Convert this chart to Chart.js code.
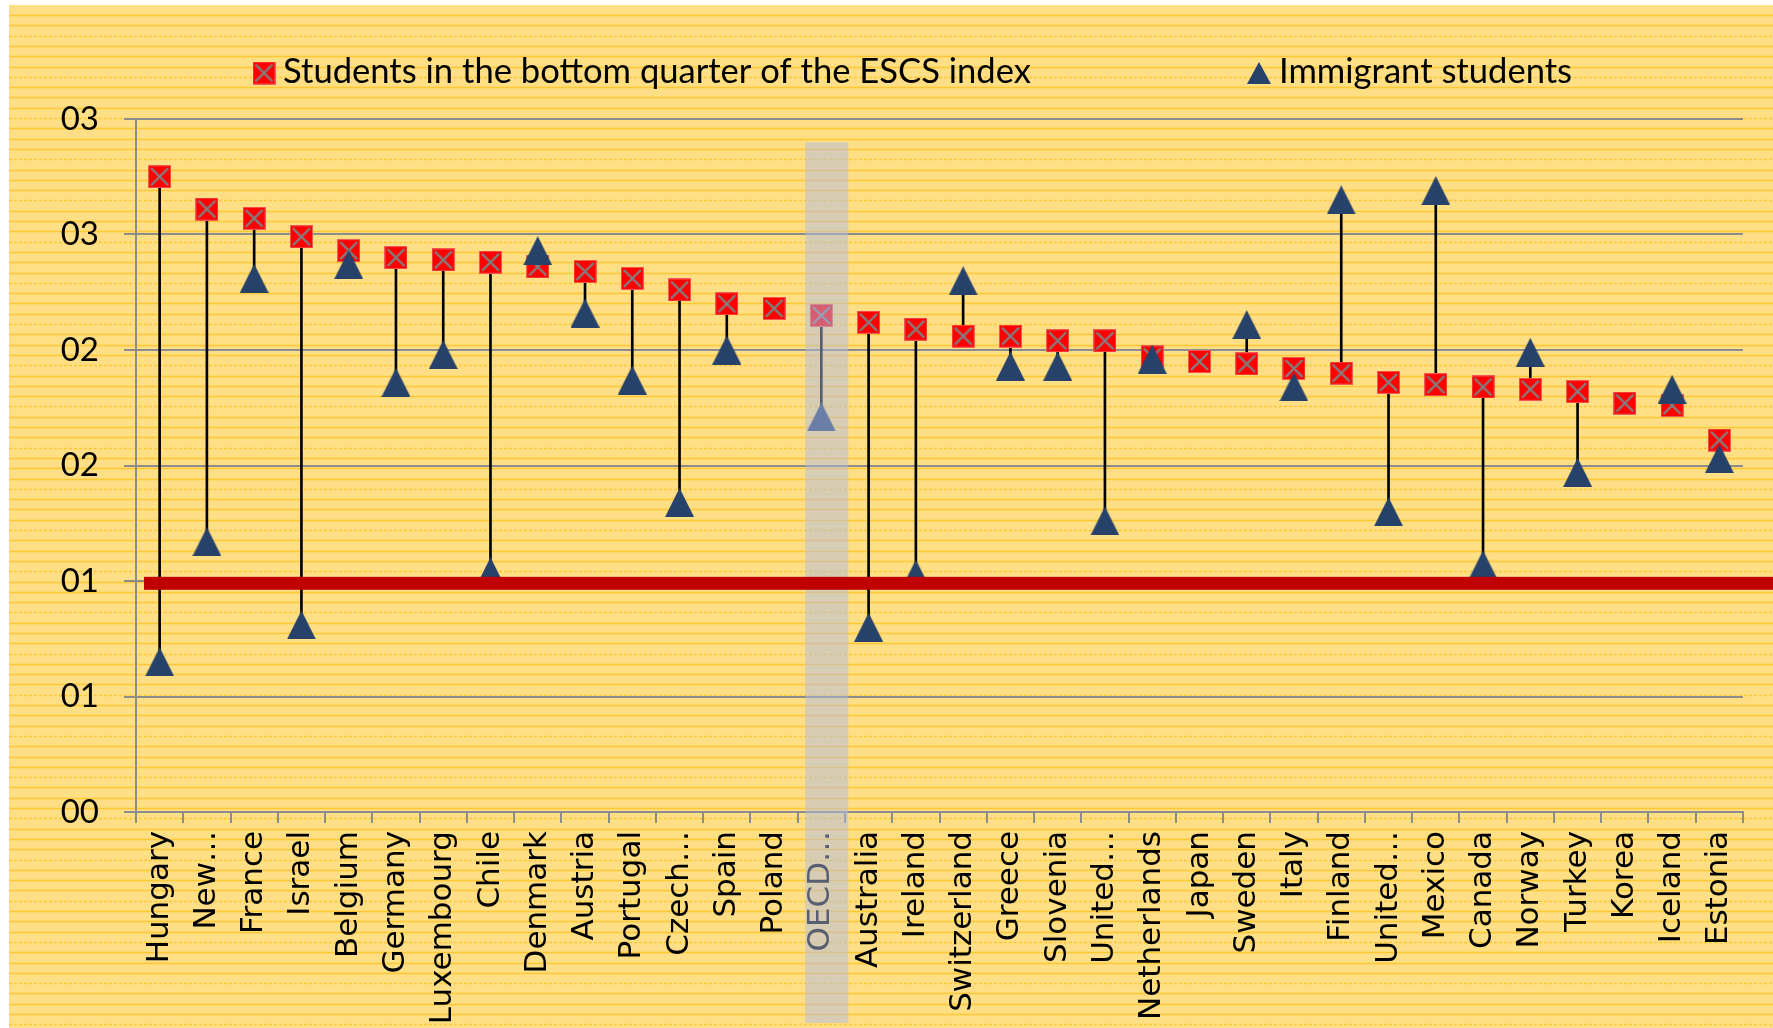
<!DOCTYPE html>
<html>
<head>
<meta charset="utf-8">
<title>Low performers: disadvantaged and immigrant students</title>
<script src="https://cdn.jsdelivr.net/npm/chart.js@4.4.1/dist/chart.umd.min.js"></script>
<style>
  html, body { margin: 0; padding: 0; background: #fff; }
  canvas { display: block; }
</style>
</head>
<body>
<canvas id="chart" width="1773" height="1028"></canvas>
<script>
// Countries in the order they are plotted (sorted by the ESCS value)
const countries = [
  'Hungary', 'New…', 'France', 'Israel', 'Belgium', 'Germany', 'Luxembourg',
  'Chile', 'Denmark', 'Austria', 'Portugal', 'Czech…', 'Spain', 'Poland',
  'OECD…', 'Australia', 'Ireland', 'Switzerland', 'Greece', 'Slovenia',
  'United…', 'Netherlands', 'Japan', 'Sweden', 'Italy', 'Finland', 'United…',
  'Mexico', 'Canada', 'Norway', 'Turkey', 'Korea', 'Iceland', 'Estonia'
];

// Students in the bottom quarter of the ESCS index
const escsValues = [
  2.75, 2.61, 2.57, 2.49, 2.43, 2.40, 2.39, 2.38, 2.36, 2.34, 2.31, 2.26,
  2.20, 2.18, 2.15, 2.12, 2.09, 2.06, 2.06, 2.04, 2.04, 1.97, 1.95, 1.94,
  1.92, 1.90, 1.86, 1.85, 1.84, 1.83, 1.82, 1.77, 1.76, 1.61
];

// Immigrant students (null = no estimate)
const immigrantValues = [
  0.65, 1.17, 2.31, 0.81, 2.37, 1.86, 1.98, 1.04, 2.43, 2.16, 1.87, 1.34,
  2.00, null, 1.71, 0.80, 1.03, 2.30, 1.93, 1.93, 1.26, 1.96, null, 2.11,
  1.84, 2.65, 1.30, 2.69, 1.07, 1.99, 1.47, null, 1.83, 1.53
];

const yTickLabels = ['00', '01', '01', '02', '02', '03', '03'];
const referenceValue = 0.99;
const averageLabel = 'OECD…';
const legendLabels = ['Students in the bottom quarter of the ESCS index', 'Immigrant students'];

// Marker images: red square with a grey cross, navy triangle
function makeSquareMarker(size) {
  const c = document.createElement('canvas');
  c.width = size;
  c.height = size;
  const g = c.getContext('2d');
  g.fillStyle = '#FF0000';
  g.fillRect(0, 0, size, size);
  g.strokeStyle = '#F25A55';
  g.lineWidth = 1;
  g.strokeRect(0.5, 0.5, size - 1, size - 1);
  g.strokeStyle = '#808080';
  g.lineWidth = 2.4;
  g.beginPath();
  g.moveTo(3, 3);
  g.lineTo(size - 3, size - 3);
  g.moveTo(size - 3, 3);
  g.lineTo(3, size - 3);
  g.stroke();
  return c;
}

function makeTriangleMarker(w, h) {
  const c = document.createElement('canvas');
  c.width = w;
  c.height = h;
  const g = c.getContext('2d');
  g.fillStyle = '#26416A';
  g.beginPath();
  g.moveTo(w / 2, 0);
  g.lineTo(w, h);
  g.lineTo(0, h);
  g.closePath();
  g.fill();
  return c;
}

const squareMarker = makeSquareMarker(23);
const triangleMarker = makeTriangleMarker(29, 29);
const legendTriangle = makeTriangleMarker(24, 22);

// Striped yellow page behind everything
const backdrop = {
  id: 'backdrop',
  beforeDraw(chart) {
    const { ctx, width, height } = chart;
    ctx.save();
    ctx.fillStyle = '#fff';
    ctx.fillRect(0, 0, width, height);
    ctx.fillStyle = '#FFDF86';
    ctx.fillRect(9, 5, width - 9, height - 5);
    ctx.strokeStyle = '#FFC832';
    ctx.lineWidth = 1.4;
    let n = 0;
    for (let y = 15; y < height; y += 10.3, n++) {
      ctx.setLineDash(n % 4 === 2 ? [3, 2] : []);
      ctx.beginPath();
      ctx.moveTo(9, Math.round(y) + 0.5);
      ctx.lineTo(width, Math.round(y) + 0.5);
      ctx.stroke();
    }
    ctx.restore();
  }
};

// OECD highlight band, reference line and legend
const overlays = {
  id: 'overlays',
  afterDatasetsDraw(chart) {
    const { ctx, scales: { x, y }, chartArea } = chart;
    const cx = x.getPixelForValue(countries.indexOf(averageLabel));
    const top = y.getPixelForValue(2.9);
    ctx.save();
    ctx.fillStyle = 'rgba(175, 187, 228, 0.5)';
    ctx.fillRect(cx - 16, top, 43, 1023 - top);

    const ly = y.getPixelForValue(referenceValue);
    ctx.fillStyle = '#C00000';
    ctx.fillRect(chartArea.left + 8, ly - 6.5, chart.width, 13);
    ctx.restore();
  },
  afterDraw(chart) {
    const { ctx } = chart;
    ctx.save();
    ctx.font = '34.6px Lato';
    ctx.fillStyle = '#000';
    ctx.textBaseline = 'alphabetic';
    ctx.drawImage(squareMarker, 264 - 11.5, 73 - 11.5);
    ctx.fillText(legendLabels[0], 283, 83);
    ctx.drawImage(legendTriangle, 1259 - 12, 73 - 11);
    ctx.fillText(legendLabels[1], 1279, 83);
    ctx.restore();
  }
};

const axisGrey = '#8C8C8C';

new Chart(document.getElementById('chart'), {
  type: 'bar',
  data: {
    labels: countries,
    datasets: [
      {
        // vertical connector between the two markers
        type: 'bar',
        label: 'gap',
        data: escsValues.map((v, i) => immigrantValues[i] == null ? null : [immigrantValues[i], v]),
        backgroundColor: '#000',
        borderWidth: 0,
        barThickness: 2,
        order: 3
      },
      {
        type: 'line',
        label: legendLabels[0],
        data: escsValues,
        showLine: false,
        pointStyle: squareMarker,
        pointRadius: 12,
        order: 2
      },
      {
        type: 'line',
        label: legendLabels[1],
        data: immigrantValues,
        showLine: false,
        pointStyle: triangleMarker,
        pointRadius: 14,
        order: 1
      }
    ]
  },
  options: {
    responsive: false,
    animation: false,
    layout: {
      padding: { top: 119, right: 30, left: 0, bottom: 0 }
    },
    plugins: {
      legend: { display: false },
      tooltip: { enabled: false }
    },
    scales: {
      x: {
        type: 'category',
        offset: true,
        grid: {
          offset: true,
          drawOnChartArea: false,
          drawTicks: true,
          tickLength: 11,
          color: axisGrey,
          lineWidth: 2
        },
        border: { color: axisGrey, width: 2 },
        ticks: {
          autoSkip: false,
          minRotation: 90,
          maxRotation: 90,
          padding: 8,
          color: '#000',
          font: { family: 'DejaVu Sans', size: 31 }
        },
        afterFit(scale) {
          scale.height = 216;
        }
      },
      y: {
        min: 0,
        max: 3,
        grid: {
          color: axisGrey,
          lineWidth: 2,
          drawTicks: true,
          tickLength: 12
        },
        border: { color: axisGrey, width: 2 },
        ticks: {
          stepSize: 0.5,
          padding: 25,
          color: '#000',
          font: { family: 'Lato', size: 33 },
          callback: (value, index) => yTickLabels[index]
        },
        afterFit(scale) {
          scale.width = 136;
        }
      }
    }
  },
  plugins: [backdrop, overlays]
});
</script>
</body>
</html>
